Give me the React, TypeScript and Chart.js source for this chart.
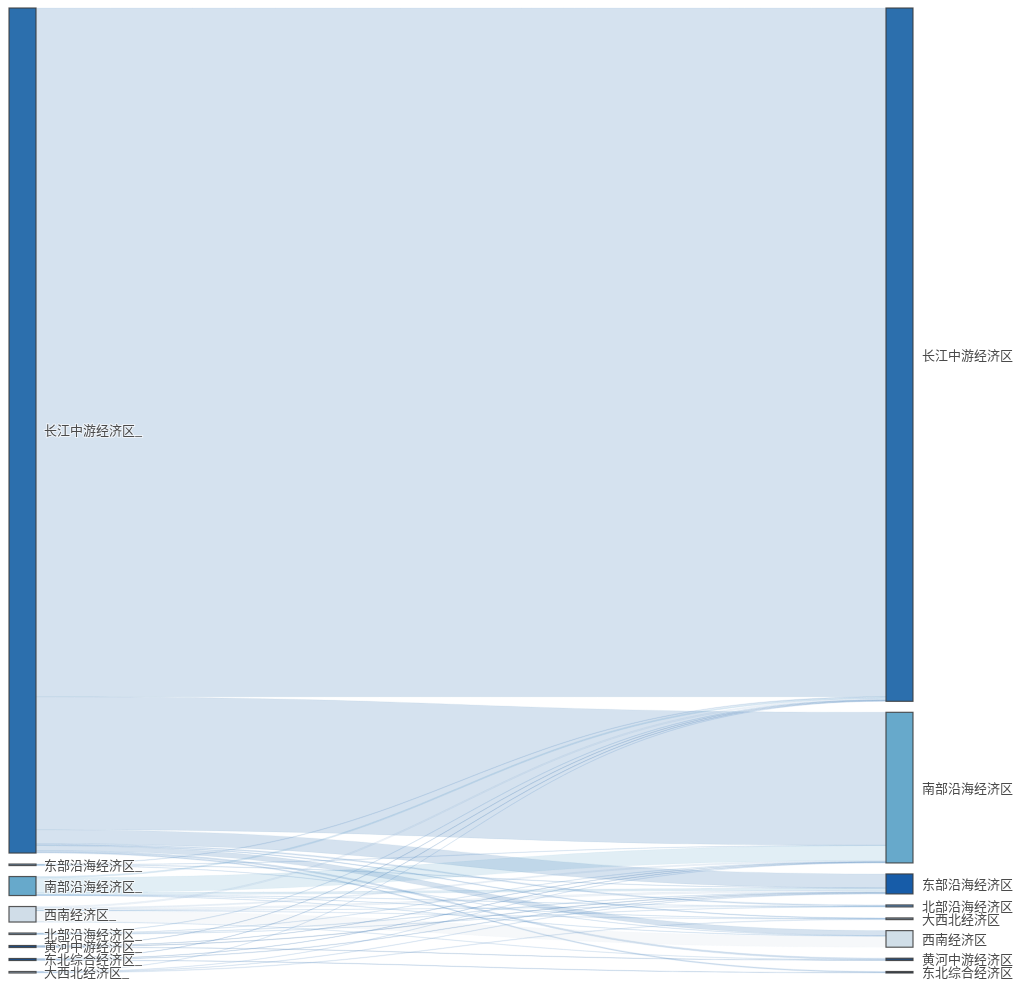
import React, { useEffect, useRef } from "react";
import { Chart, registerables } from "chart.js";

Chart.register(...registerables);

// ---- data ----
const leftNodes = [
  "长江中游经济区_",
  "东部沿海经济区_",
  "南部沿海经济区_",
  "西南经济区_",
  "北部沿海经济区_",
  "黄河中游经济区_",
  "东北综合经济区_",
  "大西北经济区_",
];
const rightNodes = [
  "长江中游经济区",
  "南部沿海经济区",
  "东部沿海经济区",
  "北部沿海经济区",
  "大西北经济区",
  "西南经济区",
  "黄河中游经济区",
  "东北综合经济区",
];
const leftColors = ["#2c6fad", "#7d9fc2", "#67a9cb", "#d0dde8", "#8fb3d3", "#1f4e85", "#1a4f8f", "#a9bfd6"];
const rightColors = ["#2c6fad", "#67a9cb", "#175ca8", "#5a8dbf", "#7d8ea0", "#d0dee8", "#2a4e78", "#3a4a5c"];

// links: source index (left), target index (right), value
const linkSources = [
  0, 0, 0, 0, 0, 0, 0, 0,
  1, 1, 1, 1,
  2, 2, 2, 2, 2, 2,
  3, 3, 3, 3, 3, 3, 3,
  4, 4, 4, 4,
  5, 5, 5, 5,
  6, 6, 6, 6,
  7, 7, 7, 7,
];
const linkTargets = [
  0, 1, 2, 3, 4, 5, 6, 7,
  0, 1, 2, 5,
  0, 1, 2, 3, 4, 5,
  0, 1, 2, 3, 4, 5, 6,
  0, 1, 2, 3,
  0, 1, 2, 6,
  0, 1, 2, 7,
  0, 1, 2, 4,
];
const linkValues = [
  6890, 1330, 140, 12, 7, 50, 15, 10,
  5, 3, 4, 3,
  12, 150, 20, 3, 2, 3,
  12, 10, 15, 2, 3, 110, 3,
  4, 3, 5, 3,
  5, 4, 6, 5,
  5, 4, 6, 5,
  3, 3, 4, 5,
];
const nodePad = 110; // value units between nodes

function hexToRgba(hex: string, a: number) {
  const n = parseInt(hex.slice(1), 16);
  return `rgba(${(n >> 16) & 255},${(n >> 8) & 255},${n & 255},${a})`;
}

function layout() {
  const lt = leftNodes.map(() => 0);
  const rt = rightNodes.map(() => 0);
  linkValues.forEach((v, k) => {
    lt[linkSources[k]] += v;
    rt[linkTargets[k]] += v;
  });
  const ly: number[] = [];
  const ry: number[] = [];
  let acc = 0;
  lt.forEach((t, i) => { ly[i] = acc; acc += t + nodePad; });
  const lmax = acc - nodePad;
  acc = 0;
  rt.forEach((t, j) => { ry[j] = acc; acc += t + nodePad; });
  const rmax = acc - nodePad;
  const idx = linkValues.map((_, k) => k);
  const srcOff: number[] = [];
  const tgtOff: number[] = [];
  const lcur = ly.slice();
  [...idx].sort((a, b) => linkSources[a] - linkSources[b] || linkTargets[a] - linkTargets[b]).forEach((k) => {
    srcOff[k] = lcur[linkSources[k]];
    lcur[linkSources[k]] += linkValues[k];
  });
  const rcur = ry.slice();
  [...idx].sort((a, b) => linkTargets[a] - linkTargets[b] || linkSources[a] - linkSources[b]).forEach((k) => {
    tgtOff[k] = rcur[linkTargets[k]];
    rcur[linkTargets[k]] += linkValues[k];
  });
  return { lt, rt, ly, ry, srcOff, tgtOff, yMax: Math.max(lmax, rmax) };
}

const L = layout();

const sankeyPlugin = {
  id: "sankeyDraw",
  afterDatasetsDraw(chart: any) {
    const ctx = chart.ctx as CanvasRenderingContext2D;
    const xs = chart.scales.x;
    const ys = chart.scales.y;
    const nodeW = 27;
    const xL = xs.getPixelForValue(0);
    const xR = xs.getPixelForValue(1);
    const x0 = xL + nodeW;
    const x1 = xR - nodeW;
    const xm = (x0 + x1) / 2;
    ctx.save();
    // links
    linkValues.forEach((v, k) => {
      const s0 = ys.getPixelForValue(L.srcOff[k]);
      const s1 = ys.getPixelForValue(L.srcOff[k] + v);
      const t0 = ys.getPixelForValue(L.tgtOff[k]);
      const t1 = ys.getPixelForValue(L.tgtOff[k] + v);
      const col = leftColors[linkSources[k]];
      ctx.beginPath();
      ctx.moveTo(x0, s0);
      ctx.bezierCurveTo(xm, s0, xm, t0, x1, t0);
      ctx.lineTo(x1, t1);
      ctx.bezierCurveTo(xm, t1, xm, s1, x0, s1);
      ctx.closePath();
      ctx.fillStyle = hexToRgba(col, 0.2);
      ctx.fill();
      const thin = Math.abs(s1 - s0) < 3;
      ctx.lineWidth = thin ? 0.6 : 0.5;
      ctx.strokeStyle = hexToRgba(thin ? "#4a85bd" : col, thin ? 0.17 : 0.12);
      ctx.stroke();
    });
    // nodes
    const drawNode = (x: number, y0: number, h: number, color: string) => {
      const p0 = ys.getPixelForValue(y0);
      const p1 = ys.getPixelForValue(y0 + h);
      ctx.fillStyle = color;
      ctx.fillRect(x, p0, nodeW, p1 - p0);
      ctx.lineWidth = 1.2;
      ctx.strokeStyle = "rgba(60,60,60,0.85)";
      ctx.strokeRect(x, p0, nodeW, p1 - p0);
    };
    leftNodes.forEach((_, i) => drawNode(xL, L.ly[i], L.lt[i], leftColors[i]));
    rightNodes.forEach((_, j) => drawNode(x1, L.ry[j], L.rt[j], rightColors[j]));
    // labels
    ctx.font = '13px "Noto Sans CJK SC", serif';
    ctx.textBaseline = "middle";
    ctx.textAlign = "left";
    const drawLabel = (text: string, x: number, yc: number) => {
      ctx.lineWidth = 2;
      ctx.strokeStyle = "rgba(255,255,255,0.6)";
      ctx.strokeText(text, x, yc);
      ctx.fillStyle = "#4a4a4a";
      ctx.fillText(text, x, yc);
    };
    leftNodes.forEach((name, i) => {
      const yc = ys.getPixelForValue(L.ly[i] + L.lt[i] / 2);
      drawLabel(name, xL + nodeW + 8, yc);
    });
    rightNodes.forEach((name, j) => {
      const yc = ys.getPixelForValue(L.ry[j] + L.rt[j] / 2);
      drawLabel(name, xR + 9, yc);
    });
    ctx.restore();
  },
};

export default function App() {
  const ref = useRef<HTMLCanvasElement | null>(null);
  useEffect(() => {
    if (!ref.current) return;
    const chart = new Chart(ref.current, {
      type: "scatter",
      data: { datasets: [{ data: [] }] },
      options: {
        animation: false,
        responsive: true,
        maintainAspectRatio: false,
        layout: { padding: { left: 9, right: 105, top: 8, bottom: 8 } },
        plugins: { legend: { display: false }, tooltip: { enabled: false } },
        scales: {
          x: { type: "linear", min: 0, max: 1, display: false },
          y: { type: "linear", min: 0, max: L.yMax, reverse: true, display: false },
        },
      },
      plugins: [sankeyPlugin],
    });
    return () => chart.destroy();
  }, []);
  return (
    <div style={{ position: "absolute", left: 0, top: 0, width: 1018, height: 981, background: "#fff" }}>
      <canvas ref={ref} />
    </div>
  );
}
